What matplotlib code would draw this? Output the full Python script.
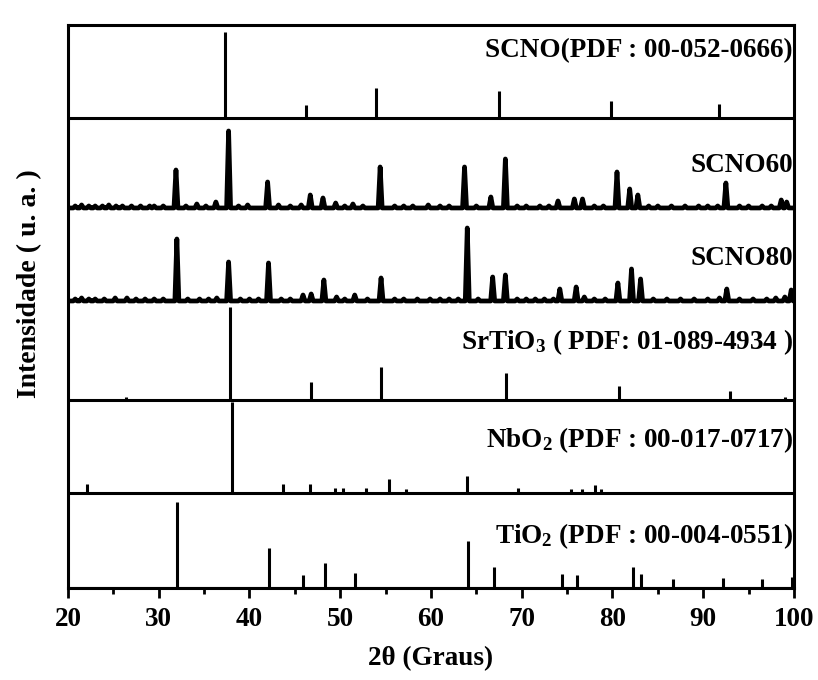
import matplotlib

matplotlib.use("Agg")
import matplotlib.pyplot as plt
from matplotlib.ticker import MultipleLocator

plt.rcParams["font.family"] = ["Liberation Serif", "DejaVu Serif"]
plt.rcParams["font.weight"] = "bold"
plt.rcParams["mathtext.fontset"] = "custom"
plt.rcParams["mathtext.rm"] = "Liberation Serif:bold"
plt.rcParams["mathtext.it"] = "Liberation Serif:bold"
plt.rcParams["mathtext.bf"] = "Liberation Serif:bold"

# reference cards: (2theta, relative height)
scno_pos = [37.3, 46.2, 53.9, 67.5, 79.8, 91.7]
scno_int = [86, 13, 30, 27, 17, 14]

srtio3_pos = [26.4, 37.8, 46.8, 54.5, 61.7, 68.3, 80.7, 86.9, 92.9, 99.0]
srtio3_int = [3, 93, 18, 33, 1, 27, 14, 1, 9, 3]

nbo2_pos = [22.1, 38.1, 43.7, 46.7, 49.4, 50.3, 52.8, 55.4, 57.2, 64.0,
            69.6, 70.4, 75.4, 76.6, 78.1, 78.7, 86.0, 86.8]
nbo2_int = [9, 91, 9, 9, 5, 5, 5, 14, 4, 17, 5, 1, 4, 4, 8, 4, 1, 1]

tio2_pos = [32.0, 42.1, 45.9, 48.3, 51.6, 64.1, 66.9, 74.4, 76.1, 82.3,
            83.2, 86.7, 92.2, 96.5, 99.8]
tio2_int = [86, 40, 13, 25, 15, 47, 21, 14, 13, 21, 14, 9, 10, 9, 11]

# measured patterns, peak list (2theta, height above background)
scno60_pos = [20.8, 21.5, 22.3, 23.0, 23.8, 24.5, 25.3, 26.0, 27.0, 28.0,
              29.0, 29.5, 30.5, 31.9, 33.0, 34.2, 35.2, 36.3, 37.7, 38.8,
              39.8, 42.0, 43.2, 44.5, 45.7, 46.7, 48.1, 49.5, 50.5, 51.4,
              52.5, 54.4, 56.0, 57.0, 58.0, 59.7, 61.0, 62.0, 63.7, 65.0,
              66.6, 68.2, 69.5, 70.5, 72.0, 73.0, 74.0, 75.8, 76.7, 78.0,
              79.0, 80.5, 81.9, 82.8, 84.0, 85.0, 86.5, 88.0, 89.5, 90.5,
              91.6, 92.5, 94.0, 95.0, 96.5, 97.5, 98.6, 99.2]
scno60_int = [2, 3, 2, 2, 2, 3, 2, 2, 2, 2,
              2, 2, 2, 38, 2, 4, 2, 6, 77, 2,
              3, 26, 3, 2, 3, 13, 10, 5, 2, 4,
              2, 41, 2, 2, 2, 3, 2, 2, 41, 2,
              11, 49, 2, 2, 2, 2, 7, 9, 9, 2,
              2, 36, 19, 13, 2, 2, 2, 2, 2, 2,
              2, 25, 2, 2, 2, 2, 8, 6]

scno80_pos = [20.8, 21.5, 22.3, 23.0, 24.0, 25.2, 26.5, 27.5, 28.5, 29.5,
              30.5, 32.0, 33.2, 34.5, 35.5, 36.4, 37.7, 39.0, 40.0, 41.0,
              42.1, 43.5, 44.5, 45.9, 46.8, 48.2, 49.6, 50.5, 51.6, 53.0,
              54.5, 56.0, 57.0, 58.5, 59.9, 61.0, 62.0, 63.0, 64.0, 65.2,
              66.8, 68.2, 69.5, 70.5, 71.5, 72.5, 73.5, 74.2, 76.0, 76.9,
              78.0, 79.2, 80.6, 82.1, 83.1, 84.5, 86.0, 87.5, 89.0, 90.5,
              91.8, 92.6, 94.0, 95.5, 97.0, 98.0, 99.0, 99.7]
scno80_int = [2, 3, 2, 2, 2, 3, 3, 2, 2, 2,
              2, 62, 2, 2, 2, 3, 39, 2, 2, 2,
              38, 2, 2, 6, 7, 21, 4, 2, 6, 2,
              23, 2, 2, 2, 2, 2, 2, 2, 73, 2,
              24, 26, 2, 2, 2, 2, 2, 12, 14, 4,
              2, 2, 18, 32, 22, 2, 2, 2, 2, 2,
              3, 12, 2, 2, 2, 3, 4, 11]

# background level of each pattern
offsets = {
    "TiO2": 0,
    "NbO2": 95,
    "SrTiO3": 188,
    "SCNO80": 287,
    "SCNO60": 380,
    "SCNO": 470,
}


def trace(pos, inten, base, half=0.22):
    xs, ys = [20.0], [base]
    for p, h in zip(pos, inten):
        xs += [p - half, p, p + half]
        ys += [base, base + h, base]
    xs.append(100.0)
    ys.append(base)
    return xs, ys


fig = plt.figure(figsize=(8.18, 6.8), dpi=100)
ax = fig.add_axes([0.0831, 0.1353, 0.8875, 0.828])

for key, pos, inten in [("SCNO", scno_pos, scno_int),
                        ("SrTiO3", srtio3_pos, srtio3_int),
                        ("NbO2", nbo2_pos, nbo2_int),
                        ("TiO2", tio2_pos, tio2_int)]:
    base = offsets[key]
    ax.vlines(pos, base, [base + h for h in inten], color="black", linewidth=2.2)
    ax.axhline(base, color="black", linewidth=2.2)

for key, pos, inten in [("SCNO60", scno60_pos, scno60_int),
                        ("SCNO80", scno80_pos, scno80_int)]:
    xs, ys = trace(pos, inten, offsets[key])
    ax.plot(xs, ys, color="black", linewidth=3.4, solid_joinstyle="round")

labels = [
    (531, "SCNO(PDF : 00-052-0666)"),
    (416, "SCNO60"),
    (323, "SCNO80"),
    (239, r"SrTiO$_\mathregular{3}$ ( PDF: 01-089-4934 )"),
    (141, r"NbO$_\mathregular{2}$ (PDF : 00-017-0717)"),
    (45, r"TiO$_\mathregular{2}$ (PDF : 00-004-0551)"),
]
for y, txt in labels:
    ax.text(99.9, y, txt, ha="right", va="baseline", fontsize=19.5,
            fontweight="bold")

ax.set_xlim(20, 100)
ax.set_ylim(0, 563)
ax.xaxis.set_major_locator(MultipleLocator(10))
ax.xaxis.set_minor_locator(MultipleLocator(5))
ax.tick_params(axis="x", which="major", direction="out", length=7, width=2,
               labelsize=19.5, pad=7)
ax.tick_params(axis="x", which="minor", direction="out", length=4, width=2)
ax.set_yticks([])
for side in ax.spines.values():
    side.set_linewidth(2.2)

ax.set_xlabel("2θ (Graus)", fontsize=19.5, fontweight="bold", labelpad=10)
ax.set_ylabel("Intensidade ( u. a. )", fontsize=20, fontweight="bold")
ax.yaxis.set_label_coords(-0.035, 0.54)

fig.savefig("out.png", dpi=100)
plt.close(fig)
